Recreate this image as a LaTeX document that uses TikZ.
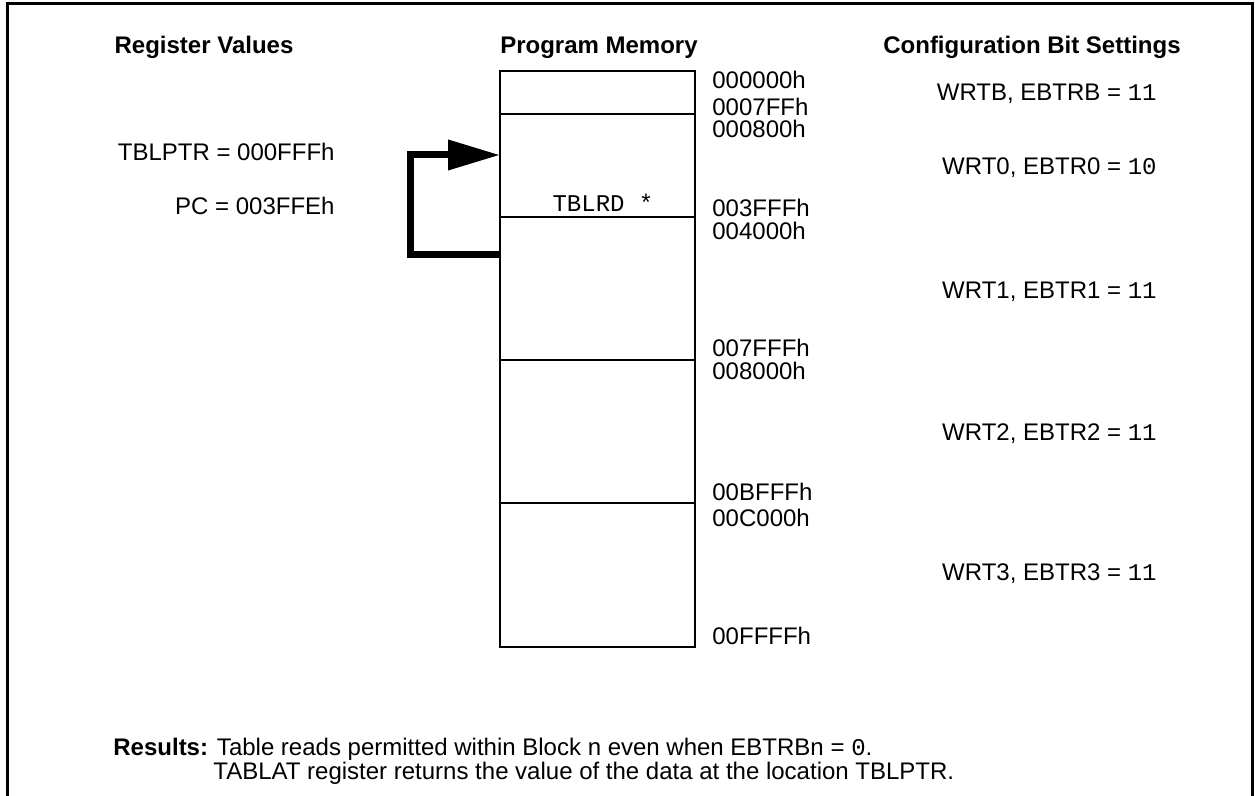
\documentclass[tikz,border=0pt]{standalone}
\usepackage{fontspec}
\setmainfont{Liberation Sans}
\setmonofont{Liberation Mono}
\usetikzlibrary{arrows.meta, positioning}

\begin{document}
\begin{tikzpicture}[x=0.5pt, y=-0.5pt,
			every node/.style={font=\fontsize{12pt}{14.5pt}\selectfont, inner sep=0pt},
			frameline/.style={line width=1.5pt},
			head/.style={font=\fontsize{12pt}{14.5pt}\selectfont\bfseries, anchor=base},
			block/.style={draw, line width=1pt, minimum width=97.5pt, outer sep=0pt},
			addr/.style={anchor=base west},
			reg/.style={anchor=base east},
			cfg/.style={anchor=base east},
			jump/.style={line width=3.5pt, -{Triangle[length=26pt, width=14.5pt]}},
			]
			\useasboundingbox (0,0) rectangle (1255,796);
			\fill[white] (0,0) rectangle (1255,796);

			% Frame
			\draw[frameline] (7,796) -- (7,3.5) -- (1252,3.5) -- (1252,796);

			% Headings
			\node[head] (hreg) at (204,54) {Register Values};
			\node[head] (hmem) at (599,54) {Program Memory};
			\node[head] (hcfg) at (1032,54) {Configuration Bit Settings};

			% Memory blocks
			\node[block, anchor=north west, minimum height=21.5pt] (blkB) at (500,71) {};
			\node[block, minimum height=51.5pt, below=0pt of blkB] (blk0) {};
			\node[block, minimum height=71.5pt, below=0pt of blk0] (blk1) {};
			\node[block, minimum height=71.5pt, below=0pt of blk1] (blk2) {};
			\node[block, minimum height=72pt, below=0pt of blk2] (blk3) {};
			\node[font=\fontsize{12pt}{14.5pt}\selectfont\ttfamily] (tblrd) at (603,203) {TBLRD *};

			% Addresses
			\node[addr] (a0) at (712,88.5) {000000h};
			\node[addr] (a1) at (712,115.5) {0007FFh};
			\node[addr] (a2) at (712,137.5) {000800h};
			\node[addr] (a3) at (712,216.5) {003FFFh};
			\node[addr] (a4) at (712,239.5) {004000h};
			\node[addr] (a5) at (712,356.5) {007FFFh};
			\node[addr] (a6) at (712,379.5) {008000h};
			\node[addr] (a7) at (712,500.5) {00BFFFh};
			\node[addr] (a8) at (712,526.5) {00C000h};
			\node[addr] (a9) at (712,644.5) {00FFFFh};

			% Register values
			\node[reg] (tblptr) at (335,161) {TBLPTR = 000FFFh};
			\node[reg] (pc) at (335,214.5) {PC = 003FFEh};

			% Configuration bits
			\node[cfg] (cB) at (1157,100.5) {WRTB, EBTRB = \texttt{11}};
			\node[cfg] (c0) at (1157,174.5) {WRT0, EBTR0 = \texttt{10}};
			\node[cfg] (c1) at (1157,298.5) {WRT1, EBTR1 = \texttt{11}};
			\node[cfg] (c2) at (1157,440.5) {WRT2, EBTR2 = \texttt{11}};
			\node[cfg] (c3) at (1157,580.5) {WRT3, EBTR3 = \texttt{11}};

			% Arrow
			\draw[jump] ([yshift=-19pt]blk1.north west) -- ++(-90,0)
			|- ([yshift=-20.5pt]blk0.north west);

			% Results
			\node[anchor=base west] (res) at (113,756)
			{\textbf{Results:} Table reads permitted within Block n even when EBTRBn = \texttt{0}.};
			\node[anchor=base west] (res2) at (213,780)
			{TABLAT register returns the value of the data at the location TBLPTR.};
		\end{tikzpicture}
\end{document}
